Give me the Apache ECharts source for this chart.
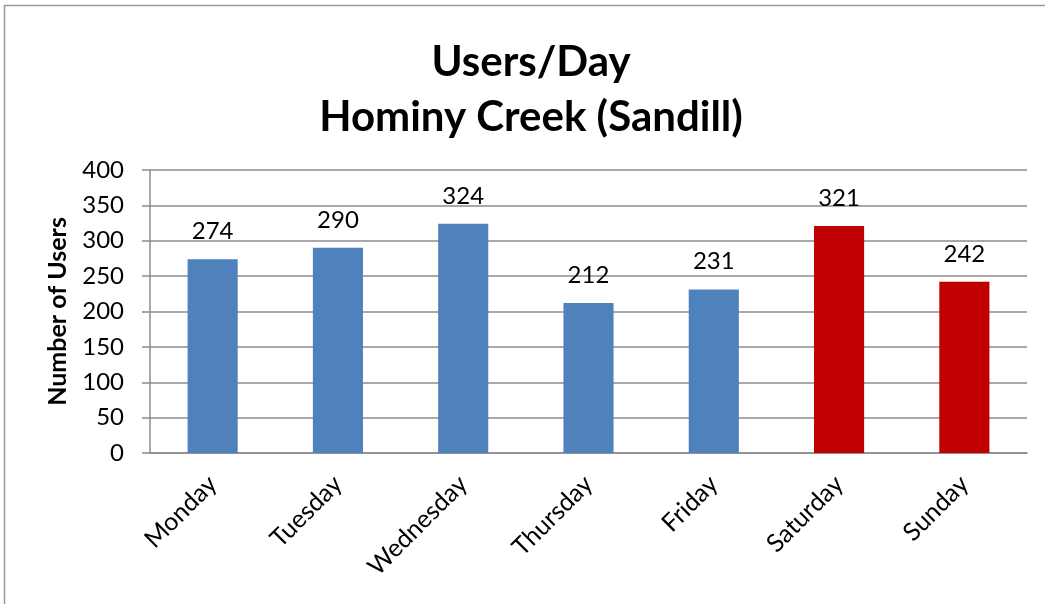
<!DOCTYPE html>
<html>
<head>
<meta charset="utf-8">
<script src="https://cdn.jsdelivr.net/npm/echarts@6/dist/echarts.min.js"></script>
<style>
  html, body { margin: 0; padding: 0; background: #fff; }
  #chart { width: 1045px; height: 604px; }
</style>
</head>
<body>
<div id="chart"></div>
<script>
// data
var days = ['Monday', 'Tuesday', 'Wednesday', 'Thursday', 'Friday', 'Saturday', 'Sunday'];
var users = [274, 290, 324, 212, 231, 321, 242];
var weekend = ['Saturday', 'Sunday'];
var yTicks = [0, 50, 100, 150, 200, 250, 300, 350, 400];

var font = 'Lato';
var chart = echarts.init(document.getElementById('chart'));

chart.setOption({
  animation: false,
  backgroundColor: '#fff',
  textStyle: { fontFamily: font },
  graphic: [{
    type: 'rect',
    shape: { x: 4.5, y: 5.5, width: 1200, height: 800 },
    style: { fill: 'none', stroke: '#9a9a9a', lineWidth: 1.5 },
    silent: true
  }],
  title: {
    text: 'Users/Day\nHominy Creek (Sandill)',
    left: 526,
    textAlign: 'center',
    top: 30,
    textStyle: {
      fontFamily: font,
      fontWeight: 'bold',
      fontSize: 42,
      lineHeight: 55,
      color: '#000'
    }
  },
  grid: { left: 150, right: 18, top: 170, bottom: 151 },
  xAxis: {
    type: 'category',
    data: days,
    axisLine: { lineStyle: { color: '#8c8c8c', width: 1.5 } },
    axisTick: { length: 8, lineStyle: { color: '#8c8c8c', width: 1.5 } },
    axisLabel: {
      rotate: 45,
      margin: 27,
      fontSize: 25,
      color: '#000',
      fontFamily: font
    }
  },
  yAxis: {
    type: 'value',
    min: yTicks[0],
    max: yTicks[yTicks.length - 1],
    interval: yTicks[1] - yTicks[0],
    name: 'Number of Users',
    nameLocation: 'middle',
    nameGap: 80,
    nameTextStyle: { fontFamily: font, fontWeight: 'bold', fontSize: 25, color: '#000' },
    axisLine: { show: true, lineStyle: { color: '#8c8c8c', width: 1.5 } },
    axisTick: { show: true, length: 8, lineStyle: { color: '#8c8c8c', width: 1.5 } },
    splitLine: { lineStyle: { color: '#8c8c8c', width: 1.5 } },
    axisLabel: { margin: 26, fontSize: 24, color: '#000', fontFamily: font }
  },
  series: [{
    type: 'bar',
    data: users,
    barWidth: '40%',
    itemStyle: {
      color: function (p) {
        return weekend.indexOf(p.name) >= 0 ? '#C00000' : '#4F81BD';
      }
    },
    label: {
      show: true,
      position: 'top',
      distance: 16,
      fontSize: 24,
      color: '#000',
      fontFamily: font
    }
  }]
});
</script>
</body>
</html>
